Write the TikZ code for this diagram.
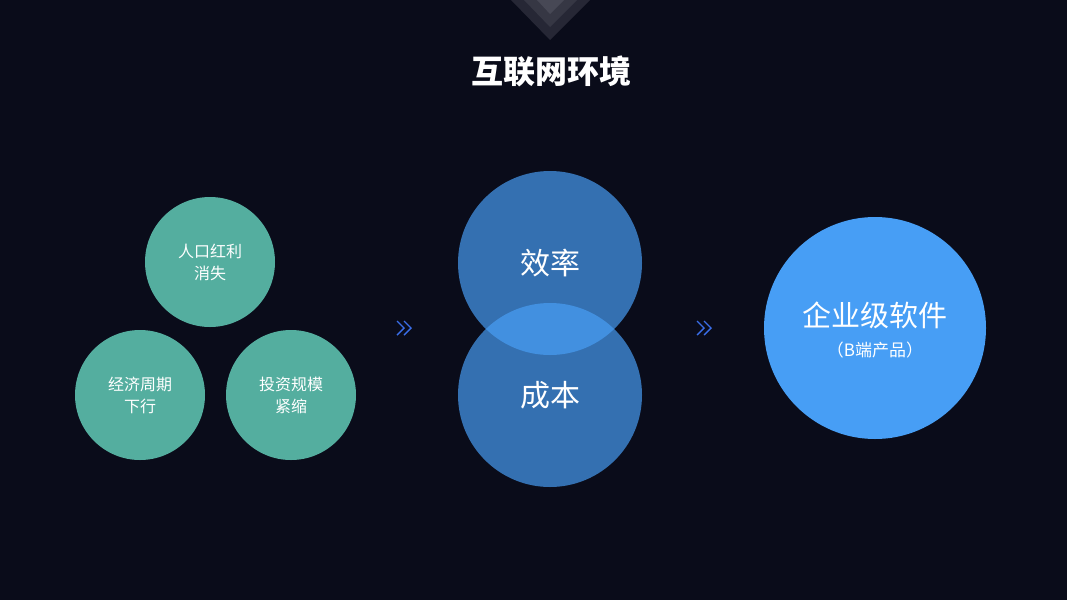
\documentclass[tikz,border=0pt]{standalone}
\usepackage{fontspec}
\newfontfamily\cjk{Noto Sans CJK SC}
\definecolor{bg}{HTML}{0A0C1A}
\definecolor{tri1}{HTML}{262735}
\definecolor{tri2}{HTML}{363744}
\definecolor{tri3}{HTML}{474855}
\definecolor{green}{HTML}{54AE9F}
\definecolor{dblue}{HTML}{3470B1}
\definecolor{lblue}{HTML}{4290E0}
\definecolor{big}{HTML}{479EF5}
\definecolor{chev}{HTML}{3A6EE8}
\tikzset{
  gcirc/.style={circle,fill=green,minimum size=130pt,inner sep=0pt,text=white,align=center,font=\cjk\fontsize{16}{22}\selectfont},
  bcirc/.style={circle,fill=dblue,minimum size=184pt,inner sep=0pt},
  blabel/.style={text=white,font=\cjk\fontsize{30}{36}\selectfont},
  chevron/.style={draw=chev,line width=1.4pt}
}
\begin{document}
\begin{tikzpicture}[x=1pt,y=-1pt]
\fill[bg] (0,0) rectangle (1067,600);
\useasboundingbox (0,0) rectangle (1067,600);
% top triangles
\fill[tri1] (511,0) -- (590,0) -- (550,40) -- cycle;
\fill[tri2] (524,0) -- (577,0) -- (550,27) -- cycle;
\fill[tri3] (537,0) -- (564,0) -- (550,14) -- cycle;
\node[text=white,font=\cjk\bfseries\fontsize{32}{36}\selectfont] (title) at (551,71) {互联网环境};
% green circles
\node[gcirc] (g1) at (210,262) {人口红利\\消失};
\node[gcirc] (g2) at (140,395) {经济周期\\下行};
\node[gcirc] (g3) at (291,395) {投资规模\\紧缩};
% chevrons
\coordinate (c1) at (404,328);
\draw[chevron] ([shift={(-7,-7)}]c1) -- ([shift={(0,0)}]c1) -- ([shift={(-7,7)}]c1);
\draw[chevron] ([shift={(0,-7)}]c1) -- ([shift={(7,0)}]c1) -- ([shift={(0,7)}]c1);
\coordinate (c2) at (704,328);
\draw[chevron] ([shift={(-7,-7)}]c2) -- ([shift={(0,0)}]c2) -- ([shift={(-7,7)}]c2);
\draw[chevron] ([shift={(0,-7)}]c2) -- ([shift={(7,0)}]c2) -- ([shift={(0,7)}]c2);
% blue circles
\node[bcirc] (b1) at (550,263) {};
\node[bcirc] (b2) at (550,395) {};
\begin{scope}
\clip (550,263) circle (92);
\fill[lblue] (550,395) circle (92);
\end{scope}
\node[blabel] (t1) at (550,263) {效率};
\node[blabel] (t2) at (550,395) {成本};
% big circle
\node[circle,fill=big,minimum size=222pt,inner sep=0pt] (big) at (875,328) {};
\node[text=white,font=\cjk\fontsize{29}{34}\selectfont] (bt) at (875,315) {企业级软件};
\node[text=white,font=\cjk\fontsize{17}{20}\selectfont] (bs) at (875,350) {（B端产品）};
\end{tikzpicture}
\end{document}
